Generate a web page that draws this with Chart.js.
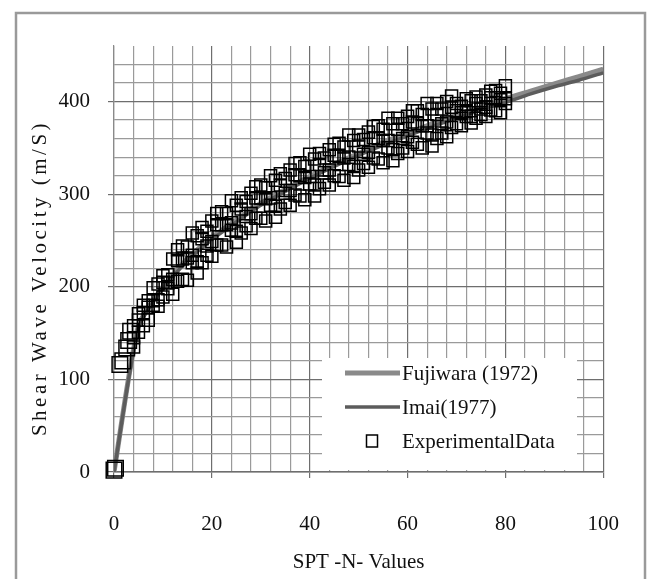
<!DOCTYPE html>
<html>
<head>
<meta charset="utf-8">
<script src="https://cdn.jsdelivr.net/npm/chart.js@4.4.1/dist/chart.umd.min.js"></script>
<style>
  body { margin: 0; background: #fff; }
  #vsChart { display: block; }
</style>
</head>
<body>
<canvas id="vsChart" width="653" height="579"></canvas>
<script>
const curveN = [0, 5, 10, 15, 20, 25, 30, 35, 40, 45, 50, 55, 60, 65, 70, 75, 80, 85, 90, 95, 100];
const fujiwaraVs = [0, 158, 200, 230, 253, 272, 290, 305, 319, 332, 344, 356, 366, 376, 385, 394, 403, 411, 419, 427, 435];
const imaiVs = [0, 156, 198, 228, 251, 270, 288, 303, 317, 330, 342, 353, 363, 373, 382, 391, 399, 408, 416, 423, 431];

// experimental points: the few isolated ones near the origin
const expLowN = [0, 0.3, 1.2, 1.8, 2.6, 3, 3.4];
const expLowVs = [2, 4, 116, 120, 134, 142, 152];

// experimental points: three readings per N value in the dense band
const expN = [
  4, 5, 6, 7, 8, 9, 10, 11, 12, 13, 14, 15, 16, 17, 18, 19, 20, 21, 22, 23, 24, 25, 26, 27,
  28, 29, 30, 31, 32, 33, 34, 35, 36, 37, 38, 39, 40, 41, 42, 43, 44, 45, 46, 47, 48, 49, 50,
  51, 52, 53, 54, 55, 56, 57, 58, 59, 60, 61, 62, 63, 64, 65, 66, 67, 68, 69, 70, 71, 72, 73,
  74, 75, 76, 77, 78, 79, 80
];
const expVs = [
  [158, 145, 135], [164, 171, 151], [158, 172, 180], [178, 164, 185], [199, 180, 185],
  [186, 203, 179], [205, 189, 212], [204, 213, 198], [230, 208, 192], [228, 240, 206],
  [208, 230, 244], [231, 207, 243], [258, 226, 234], [227, 255, 215], [252, 226, 264],
  [244, 260, 234], [271, 249, 233], [267, 279, 245], [245, 267, 281], [267, 243, 279],
  [293, 261, 269], [260, 288, 248], [284, 258, 296], [276, 292, 266], [301, 279, 263],
  [296, 308, 274], [274, 296, 310], [295, 271, 307], [320, 288, 296], [287, 315, 275],
  [310, 284, 322], [301, 317, 291], [326, 304, 288], [321, 333, 299], [298, 320, 334],
  [318, 294, 330], [343, 311, 319], [310, 338, 298], [332, 306, 344], [323, 339, 313],
  [348, 326, 310], [342, 354, 320], [319, 341, 355], [339, 315, 351], [364, 332, 340],
  [330, 358, 318], [352, 326, 364], [343, 359, 333], [367, 345, 329], [361, 373, 339],
  [338, 360, 374], [358, 334, 370], [382, 350, 358], [348, 376, 336], [370, 344, 382],
  [360, 376, 350], [384, 362, 346], [378, 390, 356], [354, 376, 390], [374, 350, 386],
  [398, 366, 374], [364, 392, 352], [386, 360, 398], [376, 392, 366], [400, 378, 362],
  [394, 406, 372], [376, 390, 398], [388, 374, 395], [403, 384, 389], [384, 401, 377],
  [398, 382, 405], [392, 401, 386], [407, 394, 384], [404, 411, 391], [390, 404, 412],
  [402, 388, 409], [417, 398, 403]
];

const xTicks = [0, 20, 40, 60, 80, 100];
const yTicks = [0, 100, 200, 300, 400];

const toPoints = (xs, ys) => xs.map((x, i) => ({ x: x, y: ys[i] }));
const expPoints = toPoints(expLowN, expLowVs).concat(
  expN.flatMap((n, i) => expVs[i].map(v => ({ x: n, y: v })))
);

const serif = '"Liberation Serif", "Times New Roman", serif';

// frame around the figure, y title and the legend box inside the plot
const figurePlugin = {
  id: 'figure',
  beforeDraw(chart) {
    const ctx = chart.ctx;
    ctx.save();
    ctx.fillStyle = '#fff';
    ctx.fillRect(0, 0, chart.width, chart.height);
    ctx.strokeStyle = '#9a9a9a';
    ctx.lineWidth = 2.5;
    ctx.strokeRect(16, 13, 629, 620);
    ctx.restore();
  },
  afterDraw(chart) {
    const ctx = chart.ctx;
    const sets = chart.data.datasets;
    ctx.save();
    // y axis title (spaced out like the original)
    ctx.translate(40, 278);
    ctx.rotate(-Math.PI / 2);
    ctx.font = '21px ' + serif;
    ctx.letterSpacing = '3.5px';
    ctx.fillStyle = '#111';
    ctx.textAlign = 'center';
    ctx.textBaseline = 'middle';
    ctx.fillText('Shear Wave Velocity (m/S)', 0, 0);
    ctx.restore();

    ctx.save();
    ctx.fillStyle = '#fff';
    ctx.fillRect(322, 358, 255, 112);
    ctx.font = '21px ' + serif;
    ctx.textBaseline = 'middle';
    ctx.textAlign = 'left';
    const rows = [373, 407, 441];
    sets.forEach((ds, i) => {
      const y = rows[i];
      if (ds.showLine) {
        ctx.strokeStyle = ds.borderColor;
        ctx.lineWidth = ds.borderWidth;
        ctx.beginPath();
        ctx.moveTo(345, y);
        ctx.lineTo(400, y);
        ctx.stroke();
      } else {
        ctx.strokeStyle = '#000';
        ctx.lineWidth = 1.5;
        ctx.strokeRect(366.5, y - 6, 11, 12);
      }
      ctx.fillStyle = '#111';
      ctx.fillText(ds.label, 402, y + 1);
    });
    ctx.restore();
  }
};

const isMajorX = v => v % 20 === 0;
const isMajorY = v => v % 100 === 0;

new Chart(document.getElementById('vsChart'), {
  type: 'scatter',
  data: {
    datasets: [
      {
        label: 'Fujiwara (1972)',
        data: toPoints(curveN, fujiwaraVs),
        showLine: true,
        borderColor: '#8a8a8a',
        borderWidth: 5,
        pointRadius: 0,
        tension: 0.2,
        order: 2
      },
      {
        label: 'Imai(1977)',
        data: toPoints(curveN, imaiVs),
        showLine: true,
        borderColor: '#5c5c5c',
        borderWidth: 3.5,
        pointRadius: 0,
        tension: 0.2,
        order: 1
      },
      {
        label: 'ExperimentalData',
        data: expPoints,
        showLine: false,
        clip: false,
        pointStyle: 'rect',
        pointRadius: ctx => (ctx.raw && ctx.raw.x < 3.5 ? 11 : 8.5),
        pointBackgroundColor: 'rgba(0,0,0,0)',
        pointBorderColor: '#000',
        pointBorderWidth: 1.5,
        order: 0
      }
    ]
  },
  options: {
    responsive: false,
    animation: false,
    layout: { padding: { top: 46, right: 43, left: 0, bottom: 0 } },
    plugins: {
      legend: { display: false },
      tooltip: { enabled: false }
    },
    scales: {
      x: {
        type: 'linear',
        min: 0,
        max: 100,
        afterFit: scale => { scale.height = 107; },
        afterBuildTicks: scale => {
          const t = [];
          for (let v = 0; v <= 100; v += 4) t.push({ value: v });
          xTicks.forEach(v => { if (v % 4 !== 0) t.push({ value: v }); });
          scale.ticks = t.sort((a, b) => a.value - b.value);
        },
        ticks: {
          autoSkip: false,
          maxRotation: 0,
          padding: 34,
          color: '#111',
          font: { family: serif, size: 21 },
          callback: v => (xTicks.includes(v) ? String(v) : '')
        },
        grid: {
          color: c => (c.tick && isMajorX(c.tick.value) ? '#6e6e6e' : '#9a9a9a'),
          lineWidth: 1.2,
          tickLength: 6,
          tickColor: c => (c.tick && isMajorX(c.tick.value) ? '#6e6e6e' : 'rgba(0,0,0,0)')
        },
        border: { color: '#6e6e6e', width: 1.5 },
        title: {
          display: true,
          text: 'SPT -N- Values',
          color: '#111',
          font: { family: serif, size: 21 },
          padding: { top: 0, bottom: 4 }
        }
      },
      y: {
        type: 'linear',
        min: 0,
        max: 460,
        afterFit: scale => { scale.width = 114; },
        afterBuildTicks: scale => {
          const t = [];
          for (let v = 0; v <= 460; v += 20) t.push({ value: v });
          scale.ticks = t;
        },
        ticks: {
          autoSkip: false,
          padding: 18,
          color: '#111',
          font: { family: serif, size: 21 },
          callback: v => (yTicks.includes(v) ? String(v) : '')
        },
        grid: {
          color: c => {
            if (!c.tick) return '#9a9a9a';
            if (c.tick.value === 460) return 'rgba(0,0,0,0)';
            return isMajorY(c.tick.value) ? '#6e6e6e' : '#9a9a9a';
          },
          lineWidth: 1.2,
          tickLength: 6,
          tickColor: c => (c.tick && isMajorY(c.tick.value) ? '#6e6e6e' : 'rgba(0,0,0,0)')
        },
        border: { color: '#8a8a8a', width: 1.2 },
        title: { display: false }
      }
    }
  },
  plugins: [figurePlugin]
});
</script>
</body>
</html>
